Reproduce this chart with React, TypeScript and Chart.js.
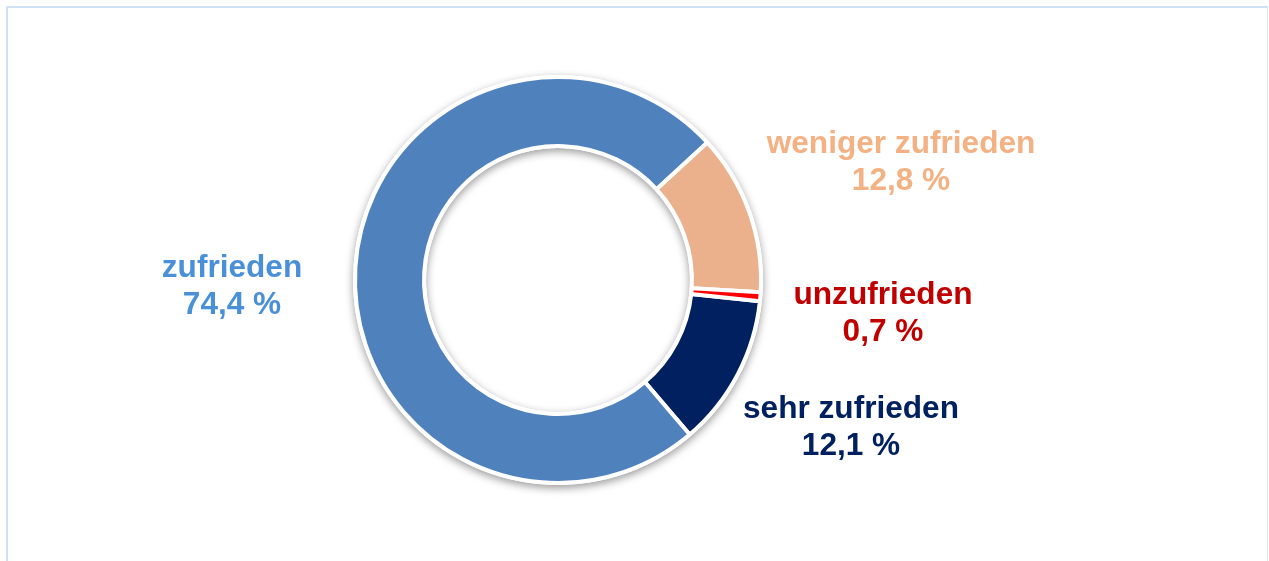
import React, { useEffect, useRef } from "react";
import { Chart, registerables } from "chart.js";

Chart.register(...registerables);

// ---- data ----
const categories = ["sehr zufrieden", "zufrieden", "weniger zufrieden", "unzufrieden"];
const values = [12.1, 74.4, 12.8, 0.7];
const valueLabels = ["12,1 %", "74,4 %", "12,8 %", "0,7 %"];

// ---- styles ----
const sliceColors = ["#002060", "#4F81BD", "#EBB18C", "#FF0000"];
const labelColors = ["#002060", "#4A90D9", "#F4B183", "#C00000"];
// first-line baseline offset of each label relative to the doughnut centre
const labelOffsets: [number, number][] = [
  [293, 138],
  [-326, -3],
  [343, -127],
  [325, 24],
];
const LINE_GAP = 37;
const FONT = "bold 31.6px 'Liberation Sans', Arial, sans-serif";

const ringShadow = {
  id: "ringShadow",
  beforeDatasetsDraw(chart: any) {
    const arc = chart.getDatasetMeta(0).data[0];
    if (!arc) return;
    const { x, y, outerRadius, innerRadius } = arc.getProps(
      ["x", "y", "outerRadius", "innerRadius"],
      true
    );
    const ctx = chart.ctx;
    ctx.save();
    ctx.shadowColor = "rgba(0,0,0,0.4)";
    ctx.shadowBlur = 9;
    ctx.shadowOffsetY = 3;
    ctx.beginPath();
    ctx.arc(x, y, outerRadius + 2, 0, Math.PI * 2);
    ctx.arc(x, y, Math.max(innerRadius - 2, 0), 0, Math.PI * 2, true);
    ctx.fillStyle = "#ffffff";
    ctx.fill("evenodd");
    ctx.restore();
  },
};

const sliceLabels = {
  id: "sliceLabels",
  afterDatasetsDraw(chart: any) {
    const arc = chart.getDatasetMeta(0).data[0];
    if (!arc) return;
    const { x, y } = arc.getProps(["x", "y"], true);
    const ctx = chart.ctx;
    ctx.save();
    ctx.font = FONT;
    ctx.textAlign = "center";
    ctx.textBaseline = "alphabetic";
    categories.forEach((cat, i) => {
      const [dx, dy] = labelOffsets[i];
      ctx.fillStyle = labelColors[i];
      ctx.fillText(cat, x + dx, y + dy);
      ctx.fillText(valueLabels[i], x + dx, y + dy + LINE_GAP);
    });
    ctx.restore();
  },
};

export default function App() {
  const canvasRef = useRef<HTMLCanvasElement | null>(null);

  useEffect(() => {
    const canvas = canvasRef.current;
    if (!canvas) return;
    const chart = new Chart(canvas, {
      type: "doughnut",
      data: {
        labels: categories,
        datasets: [
          {
            data: values,
            backgroundColor: sliceColors,
            borderColor: "#ffffff",
            borderWidth: 4,
            hoverOffset: 0,
          },
        ],
      },
      options: {
        animation: false,
        responsive: false,
        radius: 203,
        cutout: "66%",
        rotation: 96,
        layout: { padding: { left: 0, right: 153, top: 0, bottom: 1 } },
        plugins: {
          legend: { display: false },
          tooltip: { enabled: false },
        },
        events: [],
      },
      plugins: [ringShadow, sliceLabels],
    });
    return () => chart.destroy();
  }, []);

  return (
    <>
      <div
        style={{
          position: "fixed",
          left: 6,
          top: 6,
          width: 1262,
          height: 620,
          boxSizing: "border-box",
          borderTop: "2px solid #cfe2f5",
          borderLeft: "2px solid #cfe2f5",
          borderRight: "1px solid #dbe8f6",
          zIndex: 0,
        }}
      />
      <canvas
        ref={canvasRef}
        width={1269}
        height={561}
        style={{ position: "fixed", left: 0, top: 0, display: "block", zIndex: 1 }}
      />
    </>
  );
}
